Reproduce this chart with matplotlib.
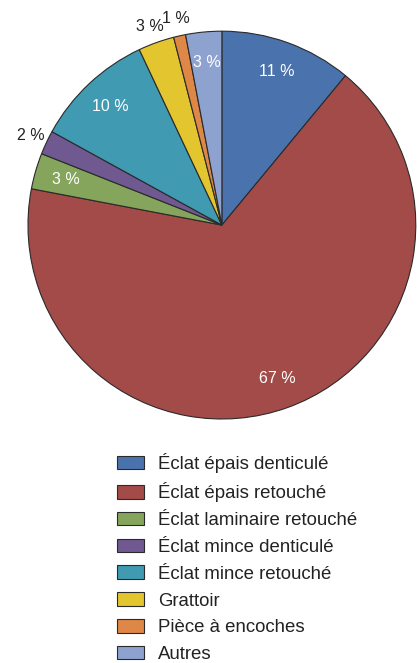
import numpy as np
import matplotlib.pyplot as plt
from matplotlib.patches import Patch

plt.rcParams['font.family'] = ['Liberation Sans', 'DejaVu Sans']

# Tool categories and their share (%)
categories = ["Éclat épais denticulé", "Éclat épais retouché", "Éclat laminaire retouché",
              "Éclat mince denticulé", "Éclat mince retouché", "Grattoir",
              "Pièce à encoches", "Autres"]
shares = [11, 67, 3, 2, 10, 3, 1, 3]
colors = ["#4A72AD", "#A24B48", "#84A55B", "#6F5990", "#3F9AB2", "#E3C52F", "#DE8746", "#8EA2D0"]
inside = [True, True, True, False, True, False, False, True]

fig = plt.figure(figsize=(4.17, 6.63), dpi=100)
ax = fig.add_axes([0.0671, 0.368, 0.930, 0.585])

wedges, _ = ax.pie(shares, colors=colors, startangle=90, counterclock=False,
                   radius=1.0, wedgeprops=dict(edgecolor="#2a2a2a", linewidth=0.8))
ax.set_xlim(-1, 1)
ax.set_ylim(-1, 1)
ax.set_aspect('equal')
ax.axis('off')

# Percentage labels: white inside the large slices, black outside the narrow ones
for w, v, ins in zip(wedges, shares, inside):
    mid = np.deg2rad((w.theta1 + w.theta2) / 2)
    r = 0.84 if ins else 1.09
    ax.text(r * np.cos(mid), r * np.sin(mid), f"{v} %", ha='center', va='center',
            fontsize=11.5, color='white' if ins else '#222222')

handles = [Patch(facecolor=c, edgecolor="#2a2a2a", linewidth=0.8) for c in colors]
fig.legend(handles, categories, loc='upper left', bbox_to_anchor=(0.281, 0.317),
           frameon=False, fontsize=13.4, handlelength=1.45, handleheight=0.75,
           handletextpad=0.75, labelspacing=0.51, borderpad=0, borderaxespad=0,
           labelcolor='#222222')

fig.savefig("out.png", dpi=100)
